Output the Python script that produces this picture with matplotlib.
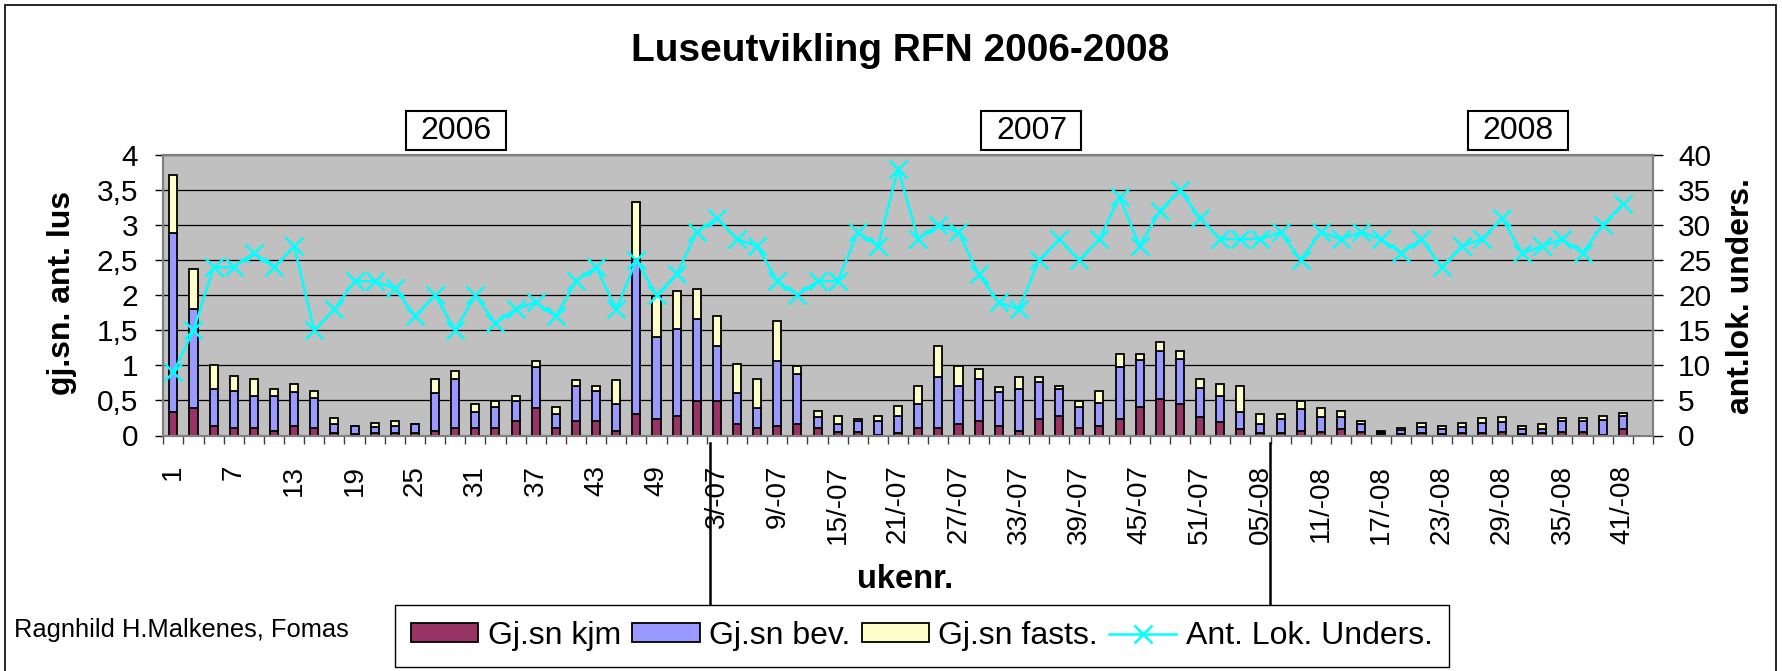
import matplotlib
matplotlib.use("Agg")
import matplotlib.pyplot as plt
import numpy as np
from matplotlib.patches import Rectangle
from matplotlib.ticker import FixedLocator

plt.rcParams["font.family"] = ["Liberation Sans", "DejaVu Sans"]

W, H = 1782, 671

# one category per second week: 1..51 (2006), 1..51 (2007), 1..43 (2008, last empty)
N_CAT = 74

KJM = [0.34, 0.39, 0.14, 0.10, 0.10, 0.07, 0.14, 0.10, 0.03, 0.02,
       0.03, 0.03, 0.03, 0.07, 0.10, 0.10, 0.10, 0.21, 0.39, 0.10,
       0.21, 0.21, 0.07, 0.31, 0.24, 0.28, 0.49, 0.49, 0.17, 0.10,
       0.14, 0.17, 0.10, 0.05, 0.05, 0.01, 0.03, 0.10, 0.10, 0.17,
       0.20, 0.13, 0.06, 0.23, 0.28, 0.10, 0.14, 0.23, 0.41, 0.52,
       0.45, 0.27, 0.19, 0.09, 0.03, 0.03, 0.06, 0.05, 0.09, 0.05,
       0.02, 0.02, 0.03, 0.02, 0.03, 0.03, 0.05, 0.02, 0.03, 0.05,
       0.05, 0.01, 0.09]
BEV = [2.55, 1.41, 0.53, 0.53, 0.47, 0.49, 0.48, 0.43, 0.14, 0.11,
       0.09, 0.10, 0.14, 0.53, 0.71, 0.24, 0.31, 0.28, 0.58, 0.20,
       0.49, 0.42, 0.38, 2.21, 1.17, 1.24, 1.17, 0.78, 0.43, 0.29,
       0.92, 0.71, 0.17, 0.12, 0.15, 0.19, 0.25, 0.35, 0.74, 0.53,
       0.60, 0.49, 0.61, 0.53, 0.38, 0.30, 0.33, 0.74, 0.67, 0.68,
       0.64, 0.41, 0.37, 0.25, 0.14, 0.21, 0.32, 0.22, 0.18, 0.12,
       0.03, 0.06, 0.09, 0.07, 0.09, 0.15, 0.14, 0.07, 0.06, 0.15,
       0.15, 0.21, 0.19]
FASTS = [0.83, 0.58, 0.33, 0.22, 0.24, 0.11, 0.12, 0.11, 0.08, 0.01,
         0.06, 0.08, 0.00, 0.21, 0.11, 0.11, 0.08, 0.07, 0.09, 0.11,
         0.09, 0.07, 0.34, 0.81, 0.58, 0.54, 0.43, 0.43, 0.42, 0.42,
         0.57, 0.11, 0.08, 0.11, 0.04, 0.08, 0.14, 0.25, 0.43, 0.29,
         0.15, 0.07, 0.17, 0.08, 0.04, 0.09, 0.16, 0.19, 0.08, 0.14,
         0.11, 0.13, 0.17, 0.36, 0.14, 0.07, 0.11, 0.12, 0.08, 0.04,
         0.02, 0.03, 0.06, 0.05, 0.06, 0.07, 0.08, 0.05, 0.08, 0.05,
         0.05, 0.06, 0.04]
ANT_LOK = [9, 15, 24, 24, 26, 24, 27, 15, 18, 22,
           22, 21, 17, 20, 15, 20, 16, 18, 19, 17,
           22, 24, 18, 25, 20, 23, 29, 31, 28, 27,
           22, 20, 22, 22, 29, 27, 38, 28, 30, 29,
           23, 19, 18, 25, 28, 25, 28, 34, 27, 32,
           35, 31, 28, 28, 28, 29, 25, 29, 28, 29,
           28, 26, 28, 24, 27, 28, 31, 26, 27, 28,
           26, 30, 33]

TICK_POS = list(range(0, 73, 3))
TICK_LABELS = ["1", "7", "13", "19", "25", "31", "37", "43", "49",
               "3/-07", "9/-07", "15/-07", "21/-07", "27/-07", "33/-07",
               "39/-07", "45/-07", "51/-07",
               "05/-08", "11/-08", "17/-08", "23/-08", "29/-08", "35/-08", "41/-08"]
YEARS = ["2006", "2007", "2008"]
YEAR_SPLIT = [26.65, 54.45]

C_KJM = "#993366"
C_BEV = "#9999FF"
C_FASTS = "#FFFFCC"
C_LINE = "#00FFFF"


def fx(px):
    return px / W


def fy(py):
    return 1 - py / H


fig = plt.figure(figsize=(W / 100, H / 100), dpi=100)
fig.add_artist(Rectangle((fx(5), -0.05), fx(1776) - fx(5), fy(5) + 0.05,
                         transform=fig.transFigure, fill=False, ec="black", lw=1.2))

ax = fig.add_axes([fx(163.3), fy(435.5), fx(1653) - fx(163.3), fy(155) - fy(435.5)])
ax.set_facecolor("#C0C0C0")
ax2 = ax.twinx()

x = np.arange(len(KJM))
kjm = np.array(KJM)
bev = np.array(BEV)
fasts = np.array(FASTS)
bw = 0.4
edge = dict(edgecolor="black", linewidth=1.3)
b1 = ax.bar(x, kjm, bw, color=C_KJM, **edge)
b2 = ax.bar(x, bev, bw, bottom=kjm, color=C_BEV, **edge)
b3 = ax.bar(x, fasts, bw, bottom=kjm + bev, color=C_FASTS, **edge)

ln, = ax2.plot(x, ANT_LOK, color=C_LINE, lw=1.8, marker="x", markersize=13,
               markeredgewidth=1.8)

ax.set_xlim(-0.5, N_CAT - 0.5)
ax.set_ylim(0, 4)
ax2.set_ylim(0, 40)
yt = np.arange(0, 4.01, 0.5)
ax.set_yticks(yt)
ax.set_yticklabels([f"{v:g}".replace(".", ",") for v in yt], fontsize=21.5)
ax2.set_yticks(np.arange(0, 41, 5))
ax2.set_yticklabels([str(v) for v in range(0, 41, 5)], fontsize=21.5)
ax.yaxis.grid(True, color="black", lw=0.9)
ax.set_axisbelow(True)

ax.set_xticks(TICK_POS)
ax.set_xticklabels(TICK_LABELS, rotation=90, fontsize=20)
ax.xaxis.set_minor_locator(FixedLocator(np.arange(-0.5, N_CAT, 1)))
ax.tick_params(axis="x", which="major", length=0, pad=21)
ax.tick_params(axis="x", which="minor", length=6, width=1, color="#404040")
ax.tick_params(axis="y", which="major", length=6, width=1, pad=12)
ax2.tick_params(axis="y", which="major", length=7, width=1, pad=11)

for a in (ax, ax2):
    for s in a.spines.values():
        s.set_color("#808080")
        s.set_linewidth(1.5)

# year separators below the axis
for xs in YEAR_SPLIT:
    ax.plot([xs, xs], [-0.025, -0.615], color="black", lw=1.8,
            transform=ax.get_xaxis_transform(), clip_on=False)

fig.text(fx(900), fy(51), "Luseutvikling RFN 2006-2008", ha="center", va="center",
         fontsize=28, fontweight="bold")
fig.text(fx(62), fy(293), "gj.sn. ant. lus", rotation=90, ha="center", va="center",
         fontsize=23, fontweight="bold")
fig.text(fx(1741), fy(296), "ant.lok. unders.", rotation=90, ha="center", va="center",
         fontsize=23, fontweight="bold")
fig.text(fx(905), fy(580), "ukenr.", ha="center", va="center",
         fontsize=23.5, fontweight="bold")
fig.text(fx(14), fy(630), "Ragnhild H.Malkenes, Fomas", ha="left", va="center",
         fontsize=18.4)

for yr, cx in zip(YEARS, [456, 1031.5, 1518]):
    fig.add_artist(Rectangle((fx(cx - 50), fy(150)), fx(100), fy(111) - fy(150),
                             transform=fig.transFigure, fc="white", ec="black", lw=1.5))
    fig.text(fx(cx), fy(131), yr, ha="center", va="center", fontsize=23)

leg = fig.legend([b1, b2, b3, ln],
                 ["Gj.sn kjm", "Gj.sn bev.", "Gj.sn fasts.", "Ant. Lok. Unders."],
                 loc="center", bbox_to_anchor=(fx(922), fy(636)), ncol=4,
                 fontsize=23, handlelength=2.1, handleheight=0.55,
                 handletextpad=0.3, columnspacing=0.35, borderpad=0.5,
                 fancybox=False, edgecolor="black", framealpha=1)
leg.get_frame().set_linewidth(1.0)

fig.savefig("out.png", dpi=100, facecolor="white")
